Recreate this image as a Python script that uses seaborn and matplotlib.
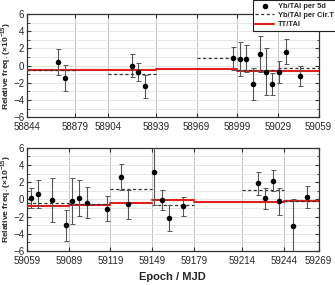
import pandas as pd
import matplotlib
matplotlib.use("Agg")
import matplotlib.pyplot as plt
from matplotlib.ticker import MultipleLocator
import seaborn as sns

# Data
top_mjd = [58867, 58872, 58921.5, 58926, 58931, 58996, 59001, 59005.5, 59010.5,
           59015.5, 59020, 59025, 59030, 59035, 59045]
top_val = [0.45, -1.45, 0.0, -0.7, -2.4, 0.86, 0.74, 0.82, -2.13, 1.36, -0.7,
           -2.13, -0.77, 1.63, -1.2]
top_err = [1.5, 1.5, 1.3, 1.05, 1.35, 1.35, 1.95, 1.6, 1.9, 2.1, 2.75, 1.3,
           1.25, 1.45, 1.2]

bot_mjd = [59061.7, 59066.7, 59076.6, 59086.7, 59091.5, 59096.3, 59101.8,
           59116.7, 59126.4, 59131.4, 59150.6, 59156.4, 59161.2, 59171.1,
           59225.7, 59230.7, 59235.8, 59240.6, 59250.7, 59260.6]
bot_val = [0.19, 0.65, -0.04, -3.0, -0.19, 0.2, -0.35, -1.08, 2.58, -0.58, 3.15,
           -0.04, -2.15, -0.77, 1.88, 0.15, 2.2, -0.23, -3.08, 0.27]
bot_err = [1.2, 1.6, 2.55, 1.8, 2.7, 2.1, 1.75, 1.45, 1.5, 1.7, 3.75, 1.2, 1.55,
           1.1, 1.3, 1.2, 1.25, 1.6, 3.15, 1.27]

# Yb/TAI per Circular T interval
cirt_top_start = [58844, 58904, 58969, 58999, 59029]
cirt_top_end = [58879, 58939, 58999, 59029, 59059]
cirt_top_val = [-0.54, -0.97, 0.85, -0.5, -0.27]

cirt_bot_start = [59059, 59089, 59119, 59149, 59214, 59244]
cirt_bot_end = [59089, 59119, 59149, 59179, 59244, 59269]
cirt_bot_val = [-0.35, -0.5, 1.23, -0.69, 1.15, -0.12]

# TT/TAI
tt_top_start = [58844, 58939, 58999]
tt_top_end = [58939, 58999, 59059]
tt_top_val = [-0.54, -0.4, -0.58]

tt_bot_start = [59059, 59089, 59119, 59149, 59179, 59214, 59244]
tt_bot_end = [59089, 59119, 59149, 59179, 59214, 59244, 59269]
tt_bot_val = [-0.8, -0.62, -0.38, -0.04, -0.27, -0.3, -0.19]

top_ticks = [58844, 58879, 58904, 58939, 58969, 58999, 59029, 59059]
bot_ticks = [59059, 59089, 59119, 59149, 59179, 59214, 59244, 59269]

sns.set_style("ticks")
plt.rcParams['font.family'] = ['Liberation Sans', 'DejaVu Sans']
plt.rcParams['mathtext.fontset'] = 'custom'
plt.rcParams['mathtext.rm'] = 'Liberation Sans:bold'
plt.rcParams['mathtext.bf'] = 'Liberation Sans:bold'

fig, axes = plt.subplots(2, 1, figsize=(3.35, 2.85), dpi=100)
fig.subplots_adjust(left=0.081, right=0.951, top=0.951, bottom=0.119, hspace=0.298)

panels = [
    (top_mjd, top_val, top_err, cirt_top_start, cirt_top_end, cirt_top_val,
     tt_top_start, tt_top_end, tt_top_val, top_ticks),
    (bot_mjd, bot_val, bot_err, cirt_bot_start, cirt_bot_end, cirt_bot_val,
     tt_bot_start, tt_bot_end, tt_bot_val, bot_ticks),
]

for i, (ax, p) in enumerate(zip(axes, panels)):
    mjd, val, err, cs, ce, cv, ts, te, tv, ticks = p
    df = pd.DataFrame({'mjd': mjd, 'val': val, 'err': err})

    # TT/TAI steps
    for k, (a, b, v) in enumerate(zip(ts, te, tv)):
        ax.plot([a, b], [v, v], color='#e0201e', lw=1.5, zorder=3,
                label='TT/TAI' if k == 0 else None)
    # Circular T averages
    for k, (a, b, v) in enumerate(zip(cs, ce, cv)):
        ax.plot([a, b], [v, v], color='#333333', lw=0.9, ls=(0, (2.5, 2)),
                zorder=4, label='Yb/TAI per Cir.T' if k == 0 else None)

    ax.errorbar(df['mjd'], df['val'], yerr=df['err'], fmt='none',
                ecolor='#555555', elinewidth=0.8, capsize=1.8, capthick=0.7,
                zorder=5)
    sns.scatterplot(data=df, x='mjd', y='val', ax=ax, color='black', s=16,
                    edgecolor='black', linewidth=0, zorder=6,
                    label='Yb/TAI per 5d')

    ax.set_xlim(ticks[0], ticks[-1])
    ax.set_ylim(-6, 6)
    ax.set_xticks(ticks)
    ax.set_xticklabels([str(t) for t in ticks])
    ax.yaxis.set_major_locator(MultipleLocator(2))
    ax.yaxis.set_minor_locator(MultipleLocator(1))
    ax.grid(True, which='major', axis='x', color='#c4c4c4', lw=0.7)
    ax.grid(True, which='both', axis='y', color='#e2e2e2', lw=0.6)
    ax.set_axisbelow(True)
    ax.tick_params(which='both', direction='in', top=True, right=True,
                   labelsize=7, pad=2, color='#333333')
    ax.tick_params(axis='x', pad=3.5)
    ax.tick_params(which='major', length=3, width=0.8)
    ax.tick_params(which='minor', length=1.8, width=0.6)
    for s in ax.spines.values():
        s.set_color('#333333')
        s.set_linewidth(0.9)
    ax.set_xlabel('')
    ax.set_ylabel(r'Relative freq. ($\times$10$^{-15}$)', fontsize=6.1,
                  fontweight='bold')
    ax.yaxis.set_label_coords(-0.047, 0.5)
    if ax.get_legend() is not None:
        ax.get_legend().remove()

axes[1].set_xlabel('Epoch / MJD', fontsize=8, fontweight='bold', labelpad=4)

h, l = axes[0].get_legend_handles_labels()
order = [l.index('Yb/TAI per 5d'), l.index('Yb/TAI per Cir.T'), l.index('TT/TAI')]
leg = fig.legend([h[j] for j in order], [l[j] for j in order],
                 loc='upper right', bbox_to_anchor=(1.003, 1.0),
                 bbox_transform=fig.transFigure, borderaxespad=0,
                 prop={'weight': 'bold', 'size': 5.4}, fancybox=False,
                 framealpha=1, edgecolor='#222222', handlelength=2.5,
                 handletextpad=0.5, labelspacing=0.3, borderpad=0.3)
leg.get_frame().set_linewidth(0.8)

fig.savefig('out.png', dpi=100)
